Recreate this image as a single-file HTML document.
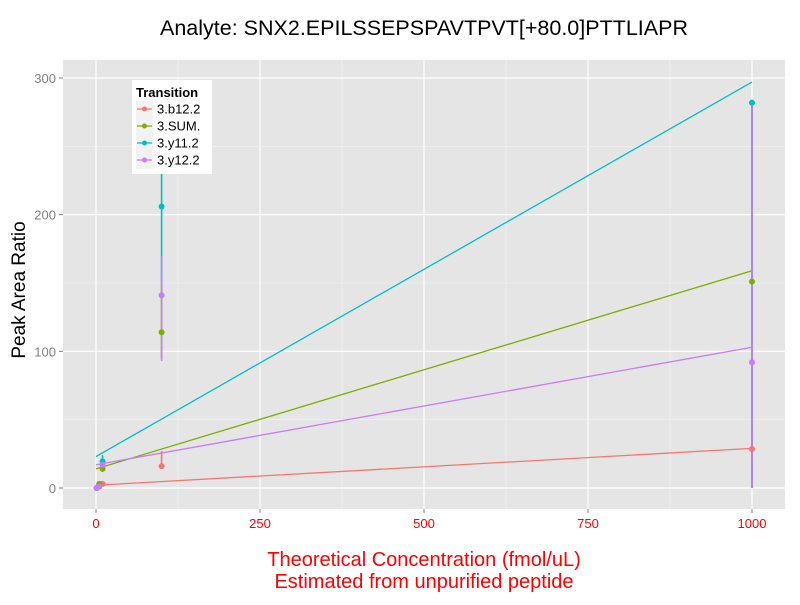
<!DOCTYPE html>
<html><head><meta charset="utf-8"><style>
body{margin:0;background:#fff;font-family:"Liberation Sans",sans-serif}
</style></head><body>
<svg id="chart" width="800" height="600" xmlns="http://www.w3.org/2000/svg">
<text x="424" y="35" font-size="21.5" text-anchor="middle" font-family="Liberation Sans">Analyte: SNX2.EPILSSEPSPAVTPVT[+80.0]PTTLIAPR</text>
<rect x="63" y="60" width="722" height="449" fill="#e5e5e5"/>
<g id="grid"></g><g id="marks"></g><g id="axes"></g>
<text transform="translate(25,290) rotate(-90)" font-size="19" text-anchor="middle">Peak Area Ratio</text>
<text x="424" y="566" font-size="20" fill="#ff0000" text-anchor="middle">Theoretical Concentration (fmol/uL)</text>
<text x="424" y="588" font-size="20" fill="#ff0000" text-anchor="middle">Estimated from unpurified peptide</text>
<g>
<rect x="132" y="80" width="80" height="94" fill="#fff"/>
<text x="136" y="97" font-size="13" font-weight="bold">Transition</text>
<g id="legend-items"></g>
</g>
</svg>
<script>
const seriesNames=["3.b12.2","3.SUM.","3.y11.2","3.y12.2"];
const colors=["#f8766d","#7cae00","#00bfc4","#c77cff"];
const xConc=[10,100,1000];
const b12=[3,16,28.5];
const sum=[14,114,151];
const y11=[19.5,206,282];
const y12=[17,141,92];
const lowValues=[[0,3],[0,3],[0,1],[0,1]];
const errLo=[[2,15,0],[12,95,0],[15,150,0],[14,93,0]];
const errHi=[[4,27,283],[16,150,283],[24,245,283],[20,170,283]];
const fitStart=[2,14,23,17];
const fitEnd=[29,159,297,103];
const xTicks=[0,250,500,750,1000];
const yTicks=[0,100,200,300];
const allVals=[b12,sum,y11,y12];
const NS="http://www.w3.org/2000/svg";
function X(v){return 96+v*0.656;}
function Y(v){return 488-v*1.3667;}
function mk(tag,attrs,parent){const e=document.createElementNS(NS,tag);for(const k in attrs)e.setAttribute(k,attrs[k]);parent.appendChild(e);return e;}
const grid=document.getElementById('grid'),marks=document.getElementById('marks'),axes=document.getElementById('axes');
for(let i=0;i<xTicks.length;i++){
 const t=xTicks[i];
 const l=mk('line',{x1:X(t),x2:X(t),y1:60,y2:509,stroke:'#fff','stroke-width':1.2},grid);
 
 
 if(i<xTicks.length-1){const m=(t+xTicks[i+1])/2;mk('line',{x1:X(m),x2:X(m),y1:60,y2:509,stroke:'#f2f2f2','stroke-width':0.6},grid);}
 mk('line',{x1:X(t),x2:X(t),y1:509,y2:513,stroke:'#7f7f7f'},axes);
 const tx=mk('text',{x:X(t),y:528,'font-size':13,fill:'#ff0000','text-anchor':'middle'},axes);tx.textContent=t;
 
 
}
for(let i=0;i<yTicks.length;i++){
 const t=yTicks[i];
 const l=mk('line',{x1:63,x2:785,y1:Y(t),y2:Y(t),stroke:'#fff','stroke-width':1.2},grid);
 
 
 if(i<yTicks.length-1){const m=(t+yTicks[i+1])/2;mk('line',{x1:63,x2:785,y1:Y(m),y2:Y(m),stroke:'#f2f2f2','stroke-width':0.6},grid);}
 mk('line',{x1:59,x2:63,y1:Y(t),y2:Y(t),stroke:'#7f7f7f'},axes);
 const tx=mk('text',{x:56,y:Y(t)+5,'font-size':13,fill:'#7f7f7f','text-anchor':'end'},axes);tx.textContent=t;
 
 
}
for(let s=0;s<4;s++){
 const c=colors[s];
 const fl=mk('line',{x1:X(0),y1:Y(fitStart[s]),x2:X(1000),y2:Y(fitEnd[s]),stroke:c,'stroke-width':1.3},marks);
 
 
 for(let i=0;i<xConc.length;i++){
  mk('line',{x1:X(xConc[i]),x2:X(xConc[i]),y1:Y(errLo[s][i]),y2:Y(errHi[s][i]),stroke:c,'stroke-width':1.6},marks);
 }
}
for(let s=0;s<4;s++){
 const c=colors[s];
 for(let i=0;i<xConc.length;i++){
  const p=mk('circle',{cx:X(xConc[i]),cy:Y(allVals[s][i]),r:3,fill:c},marks);
  
  
 }
 [1,5].forEach((xv,j)=>{mk('circle',{cx:X(xv),cy:Y(lowValues[s][j]),r:3,fill:c},marks);});
}
const li=document.getElementById('legend-items');
for(let s=0;s<4;s++){
 const y=109+s*17;
 const g=mk('g',{},li);
 
 
 mk('rect',{x:136,y:y-8,width:17,height:17,fill:'#f2f2f2'},g);
 mk('line',{x1:137,x2:152,y1:y,y2:y,stroke:colors[s],'stroke-width':1.3},g);
 mk('circle',{cx:144.5,cy:y,r:2.5,fill:colors[s]},g);
 const t=mk('text',{x:157,y:y+4.5,'font-size':13},g);t.textContent=seriesNames[s];
}
</script>
</body></html>
